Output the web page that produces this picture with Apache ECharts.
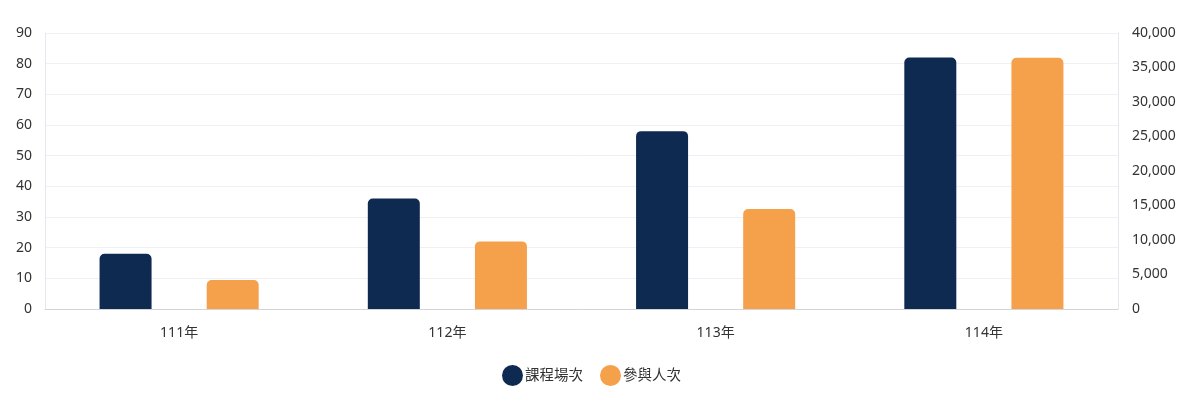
<!DOCTYPE html>
<html>
<head>
<meta charset="utf-8">
<script src="https://cdn.jsdelivr.net/npm/echarts@6/dist/echarts.min.js"></script>
<style>
    html, body { margin: 0; padding: 0; background: #ffffff; }
    #chartWrapper { width: 1200px; height: 405px; }
</style>
</head>
<body>
<div id="chartWrapper"></div>
<script>
// 年度
let categories = ['111年', '112年', '113年', '114年'];
// 課程場次 (左軸)
let sessionData = [18, 36, 58, 82];
// 參與人次 (右軸)
let peopleData = [4200, 9800, 14500, 36400];
let seriesNames = ['課程場次', '參與人次'];

let fontFamily = '"Noto Sans", "Noto Sans CJK TC", sans-serif';

function initChart() {
    let myChart = echarts.init(document.getElementById('chartWrapper'));

    let option = {
        textStyle: { fontFamily: fontFamily },
        grid: {
            left: 45,
            right: 82,
            top: 33,
            bottom: 96
        },
        legend: {
            bottom: 14,
            left: 497,
            icon: 'circle',
            itemWidth: 21,
            itemHeight: 21,
            itemGap: 17,
            textStyle: {
                color: '#333',
                fontSize: 14.5,
                fontFamily: fontFamily,
                padding: [0, 0, 0, -3]
            },
            data: seriesNames
        },
        xAxis: {
            type: 'category',
            data: categories,
            axisTick: { show: false },
            axisLine: { lineStyle: { color: '#d4d4d8' } },
            axisLabel: {
                color: '#333',
                fontSize: 14,
                margin: 17
            }
        },
        yAxis: [
            {
                type: 'value',
                min: 0,
                max: 90,
                interval: 10,
                axisLine: { show: true, lineStyle: { color: '#e6e7ee' } },
                splitLine: { lineStyle: { color: '#eff0f5' } },
                axisLabel: { color: '#333', fontSize: 14, margin: 13 }
            },
            {
                type: 'value',
                min: 0,
                max: 40000,
                interval: 5000,
                axisLine: { show: true, lineStyle: { color: '#e6e7ee' } },
                splitLine: { show: false },
                axisLabel: {
                    color: '#333',
                    fontSize: 14,
                    margin: 14,
                    formatter: function (v) {
                        return v.toLocaleString('en-US');
                    }
                }
            }
        ],
        series: [
            {
                name: seriesNames[0],
                type: 'bar',
                yAxisIndex: 0,
                barWidth: 52,
                barGap: '106%',
                itemStyle: { color: '#0e2a50', borderRadius: [5, 5, 0, 0] },
                data: sessionData
            },
            {
                name: seriesNames[1],
                type: 'bar',
                yAxisIndex: 1,
                barWidth: 52,
                barGap: '106%',
                itemStyle: { color: '#f5a04b', borderRadius: [5, 5, 0, 0] },
                data: peopleData
            }
        ]
    };

    myChart.setOption(option);
}

initChart();
</script>
</body>
</html>
